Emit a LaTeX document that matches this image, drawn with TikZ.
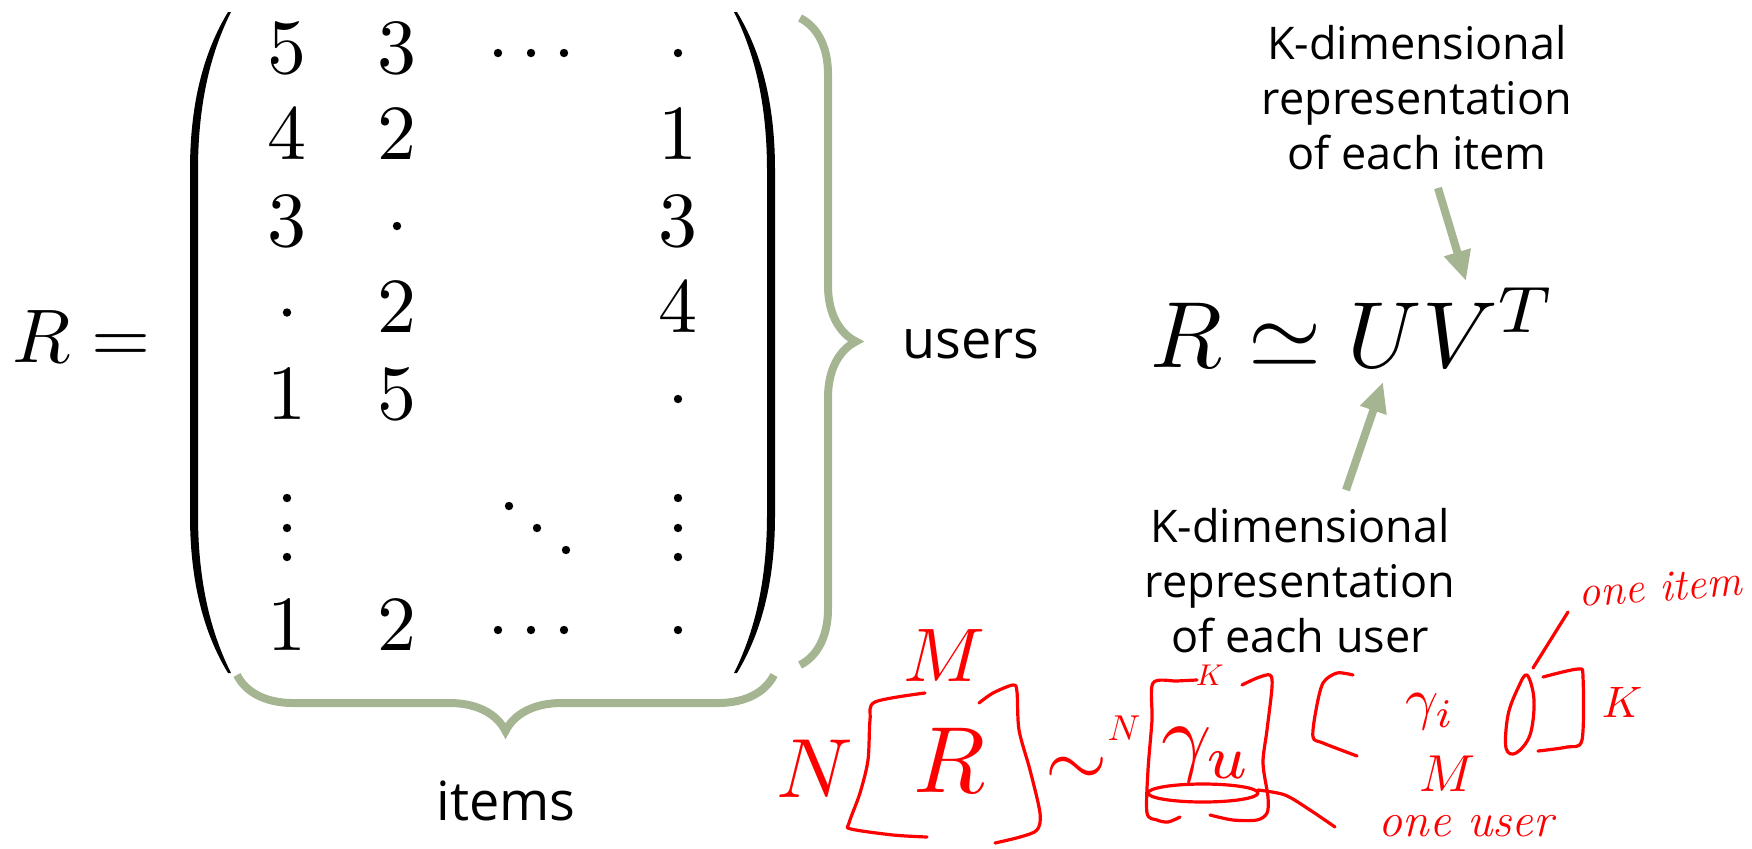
\documentclass[tikz,border=0pt]{standalone}
\usepackage{amsmath}
\usepackage{graphicx}
\usepackage{fontspec}
\newfontfamily\labelfont{Open Sans}
\usetikzlibrary{decorations.pathreplacing,arrows.meta}
\definecolor{sage}{RGB}{165,181,146}
\definecolor{ink}{RGB}{255,0,0}
\begin{document}
\begin{tikzpicture}[x=0.5pt,y=-0.5pt,
  brace/.style={draw=sage,line width=4pt,decorate,decoration={brace,amplitude=28pt}},
  garrow/.style={draw=sage,line width=4pt,-{Triangle[length=15pt,width=13pt]}},
  lbl/.style={font=\labelfont\fontsize{22.5}{27.5}\selectfont,align=center,inner sep=0pt},
  big/.style={font=\labelfont\fontsize{27}{32}\selectfont,inner sep=0pt},
  entry/.style={inner sep=0pt,anchor=base},
  paren/.style={fill=black,draw=none},
  mdot/.style={fill=black},
  inkline/.style={draw=ink,line width=1.6pt,line cap=round,line join=round},
  inktext/.style={text=ink,inner sep=0pt},
  inkword/.style={text=ink,inner sep=0pt}]
\useasboundingbox (0,0) rectangle (1752,848);

% R =
\node[inner sep=0pt,anchor=base west] (Req) at (12,362) {\scalebox{3.8}{$R=$}};

% parentheses
\path[paren] (228,12) .. controls (205,50) and (190,100) .. (190,170) -- (190,515)
  .. controls (190,585) and (205,635) .. (228,673)
  -- (231,673) .. controls (212,635) and (198,585) .. (198,515) -- (198,170)
  .. controls (198,100) and (212,50) .. (231,12) -- cycle;
\path[paren] (737,12) .. controls (760,50) and (775,100) .. (775,170) -- (775,515)
  .. controls (775,585) and (760,635) .. (737,673)
  -- (734,673) .. controls (753,635) and (767,585) .. (767,515) -- (767,170)
  .. controls (767,100) and (753,50) .. (734,12) -- cycle;

% matrix entries (digits)
\node[entry] (m11) at (287,73) {\scalebox{3.9}{$5$}};
\node[entry] (m12) at (397,73) {\scalebox{3.9}{$3$}};
\node[entry] (m21) at (287,159.5) {\scalebox{3.9}{$4$}};
\node[entry] (m22) at (397,159.5) {\scalebox{3.9}{$2$}};
\node[entry] (m24) at (678,159.5) {\scalebox{3.9}{$1$}};
\node[entry] (m31) at (287,246) {\scalebox{3.9}{$3$}};
\node[entry] (m34) at (678,246) {\scalebox{3.9}{$3$}};
\node[entry] (m42) at (397,332.5) {\scalebox{3.9}{$2$}};
\node[entry] (m44) at (678,332.5) {\scalebox{3.9}{$4$}};
\node[entry] (m51) at (287,419) {\scalebox{3.9}{$1$}};
\node[entry] (m52) at (397,419) {\scalebox{3.9}{$5$}};
\node[entry] (m71) at (287,650) {\scalebox{3.9}{$1$}};
\node[entry] (m72) at (397,650) {\scalebox{3.9}{$2$}};
% matrix entries (dots)
\foreach \x/\y in {498/53, 531/53, 564/53, 678/53,
                   397/226, 287/312.5, 678/399,
                   287/498, 287/528, 287/557, 678/498, 678/528, 678/557,
                   509/506, 537/528, 566/550,
                   498/630, 531/630, 564/630, 678/630}
  \fill[mdot] (\x,\y) circle [radius=4.2];

% braces
\draw[brace] (800,18) -- (800,665);
\draw[brace] (774,675) -- (237,675);
\node[big,anchor=base] (users) at (971,358) {users};
\node[big,anchor=base] (items) at (506,820) {items};

% factorisation
\node[inner sep=0pt,anchor=base west] (fact) at (1150,367) {\scalebox{4.7}{$R\simeq UV^T$}};
\node[lbl] (itemlbl) at (1417,98) {K-dimensional\\representation\\of each item};
\node[lbl] (userlbl) at (1300,581) {K-dimensional\\representation\\of each user};
\coordinate (a1s) at (1438,188);
\coordinate (a1e) at (1466,281);
\coordinate (a2s) at (1346,490);
\coordinate (a2e) at (1383,382);
\draw[garrow] (a1s) -- (a1e);
\draw[garrow] (a2s) -- (a2e);

% handwritten annotation
\node[inktext] (hN1) at (815,769) {\scalebox{4.2}{$N$}};
\node[inktext] (hM1) at (944,656) {\scalebox{3.8}{$M$}};
\node[inktext] (hR) at (950,760) {\scalebox{4.7}{$R$}};
\draw[inkline] plot[smooth,tension=0.5] coordinates {(925,693) (875,702) (870,720) (868,760) (860,793) (849,823) (851,829) (893,835) (927,837)};
\draw[inkline] plot[smooth,tension=0.5] coordinates {(979,703) (993,693) (1013,685) (1017,692) (1019,730) (1030,770) (1040,813) (1037,830) (1020,837) (995,843)};
\node[inktext] (hsim) at (1077,772) {\scalebox{4}{$\sim$}};
\node[inktext] (hN2) at (1124,728) {\scalebox{1.8}{$N$}};
\node[inktext] (hK1) at (1210,675) {\scalebox{1.5}{$K$}};
\draw[inkline] plot[smooth,tension=0.5] coordinates {(1197,680) (1177,681) (1153,683) (1152,720) (1148,770) (1147,813) (1157,820) (1168,822) (1180,817)};
\draw[inkline] plot[smooth,tension=0.5] coordinates {(1242,685) (1257,678) (1270,675) (1272,687) (1267,730) (1263,763) (1268,797) (1267,813) (1257,820) (1233,820) (1210,815)};
\node[inktext] (hgu) at (1207,755) {\scalebox{4.4}{$\gamma_u$}};
\draw[inkline] (1203,793) ellipse [x radius=55, y radius=9];
\draw[inkline] plot[smooth,tension=0.5] coordinates {(1258,790) (1285,795) (1310,810) (1335,827)};
\node[inkword,font=\itshape\fontsize{24}{24}\selectfont] (oneuser) at (1466,826) {one user};
\draw[inkline] plot[smooth,tension=0.5] coordinates {(1353,675) (1337,673) (1323,683) (1316,710) (1313,737) (1323,743) (1357,756)};
\node[inktext] (hgi) at (1430,712) {\scalebox{2.9}{$\gamma_i$}};
\draw[inkline] plot[smooth cycle,tension=0.6] coordinates {(1527,675) (1534,700) (1530,735) (1516,753) (1506,748) (1508,715) (1518,688)};
\draw[inkline] (1533,668) -- (1568,612);
\node[inkword,font=\itshape\fontsize{22}{22}\selectfont,rotate=4] (oneitem) at (1660,587) {one item};
\draw[inkline] plot[smooth,tension=0.5] coordinates {(1543,677) (1578,669) (1583,677) (1582,740) (1567,747) (1538,751)};
\node[inktext] (hK2) at (1622,702) {\scalebox{2.2}{$K$}};
\node[inktext] (hM2) at (1448,774) {\scalebox{2.6}{$M$}};
\end{tikzpicture}
\end{document}
